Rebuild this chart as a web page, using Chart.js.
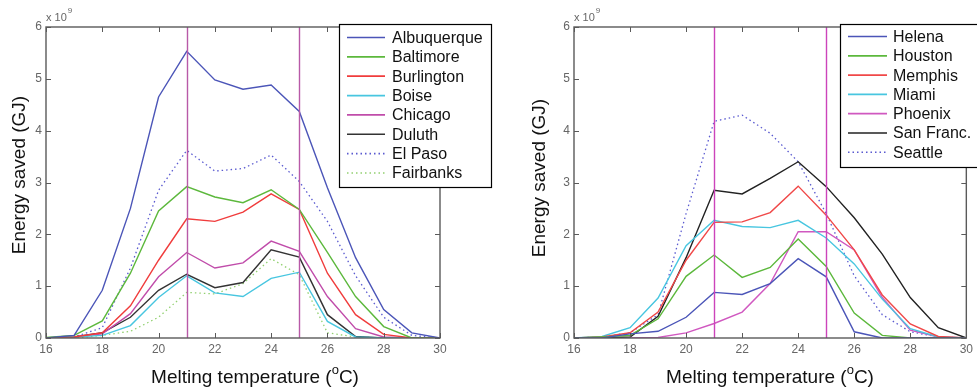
<!DOCTYPE html>
<html>
<head>
<meta charset="utf-8">
<script src="https://cdn.jsdelivr.net/npm/chart.js@4/dist/chart.umd.min.js"></script>
<style>
    html, body { margin: 0; padding: 0; background: #fff; }
    #wrap { position: relative; width: 977px; height: 389px; overflow: hidden; }
    #leftChart { position: absolute; left: 0; top: 0; }
    #rightChart { position: absolute; left: 490px; top: 0; }
</style>
</head>
<body>
<div id="wrap">
    <canvas id="leftChart" width="495" height="389"></canvas>
    <canvas id="rightChart" width="487" height="389"></canvas>
</div>
<script>
// melting temperatures (°C) and axis ticks
const temps = [16, 17, 18, 19, 20, 21, 22, 23, 24, 25, 26, 27, 28, 29, 30];
const xTicks = [16, 18, 20, 22, 24, 26, 28, 30];
const yTicks = [0, 1, 2, 3, 4, 5, 6];
const markerTemps = [21, 25];

// energy saved, x 10^9 GJ - left panel
const albuquerque = [0, 0.05, 0.92, 2.5, 4.65, 5.53, 4.98, 4.8, 4.88, 4.37, 2.9, 1.55, 0.55, 0.1, 0];
const baltimore = [0.01, 0.05, 0.33, 1.25, 2.45, 2.92, 2.72, 2.61, 2.86, 2.48, 1.65, 0.8, 0.22, 0, 0];
const burlington = [0, 0.02, 0.1, 0.62, 1.5, 2.3, 2.25, 2.43, 2.78, 2.48, 1.25, 0.45, 0.07, 0, 0];
const boise = [0, 0.02, 0.05, 0.24, 0.78, 1.2, 0.87, 0.8, 1.15, 1.27, 0.32, 0.02, 0, 0, 0];
const chicago = [0, 0.02, 0.08, 0.47, 1.18, 1.65, 1.35, 1.45, 1.87, 1.67, 0.8, 0.18, 0.02, 0, 0];
const duluth = [0, 0.02, 0.1, 0.4, 0.92, 1.23, 0.97, 1.07, 1.7, 1.56, 0.45, 0.03, 0, 0, 0];
const elPaso = [0, 0.02, 0.2, 1.35, 2.85, 3.62, 3.22, 3.27, 3.53, 3.02, 2.25, 1.2, 0.4, 0.05, 0];
const fairbanks = [0, 0, 0.05, 0.13, 0.4, 0.88, 0.85, 1.05, 1.53, 1.22, 0.1, 0.02, 0, 0, 0];

// right panel
const helena = [0, 0, 0.08, 0.13, 0.4, 0.88, 0.84, 1.05, 1.53, 1.18, 0.12, 0, 0, 0, 0];
const houston = [0, 0.02, 0.05, 0.37, 1.19, 1.6, 1.17, 1.36, 1.91, 1.38, 0.48, 0.05, 0, 0, 0];
const memphis = [0, 0.02, 0.1, 0.5, 1.5, 2.23, 2.24, 2.42, 2.93, 2.37, 1.7, 0.83, 0.27, 0.03, 0];
const miami = [0, 0.03, 0.2, 0.77, 1.78, 2.27, 2.15, 2.13, 2.27, 1.93, 1.43, 0.75, 0.18, 0.02, 0];
const phoenix = [null, null, 0, 0.01, 0.1, 0.28, 0.5, 1.05, 2.05, 2.05, 1.7, 0.78, 0.15, 0.02, 0];
const sanFranc = [0, 0, 0.02, 0.42, 1.55, 2.85, 2.78, 3.08, 3.4, 2.92, 2.32, 1.62, 0.78, 0.2, 0];
const seattle = [0, 0.02, 0.1, 0.45, 2.4, 4.18, 4.3, 3.95, 3.4, 2.4, 1.2, 0.45, 0.12, 0.02, 0];

const FONT = "'Liberation Sans', Arial, sans-serif";

function series(label, values, color, dotted) {
    return {
        label: label,
        data: values.map((v, i) => ({ x: temps[i], y: v })),
        borderColor: color,
        backgroundColor: color,
        borderWidth: dotted ? 1.3 : 1.4,
        borderDash: dotted ? [1.5, 3] : [],
        pointRadius: 0,
        tension: 0,
        fill: false,
        spanGaps: false
    };
}

// MATLAB-like box, inward ticks, marker lines, titles and legend
const matlabAxes = {
    id: "matlabAxes",
    afterDatasetsDraw(chart, args, opts) {
        const ctx = chart.ctx;
        const area = chart.chartArea;
        const xs = chart.scales.x, ys = chart.scales.y;
        ctx.save();

        // marker lines
        ctx.strokeStyle = opts.markerColor;
        ctx.lineWidth = 1.4;
        markerTemps.forEach(t => {
            const px = Math.round(xs.getPixelForValue(t)) + 0.5;
            ctx.beginPath();
            ctx.moveTo(px, area.top);
            ctx.lineTo(px, area.bottom);
            ctx.stroke();
        });

        // frame
        ctx.strokeStyle = "#5a5a5a";
        ctx.lineWidth = 1.4;
        ctx.strokeRect(area.left, area.top, area.right - area.left, area.bottom - area.top);

        // inward ticks
        ctx.lineWidth = 1;
        ctx.beginPath();
        xTicks.forEach(t => {
            const px = Math.round(xs.getPixelForValue(t)) + 0.5;
            ctx.moveTo(px, area.bottom); ctx.lineTo(px, area.bottom - 5);
            ctx.moveTo(px, area.top); ctx.lineTo(px, area.top + 5);
        });
        yTicks.forEach(t => {
            const py = Math.round(ys.getPixelForValue(t)) + 0.5;
            ctx.moveTo(area.left, py); ctx.lineTo(area.left + 5, py);
            ctx.moveTo(area.right, py); ctx.lineTo(area.right - 5, py);
        });
        ctx.stroke();

        // exponent label
        ctx.fillStyle = "#666";
        ctx.textBaseline = "alphabetic";
        ctx.textAlign = "left";
        ctx.font = "11px " + FONT;
        ctx.fillText("x 10", area.left, 21);
        const w = ctx.measureText("x 10").width;
        ctx.font = "8px " + FONT;
        ctx.fillText("9", area.left + w + 1, 13);

        // axis titles
        ctx.fillStyle = "#111";
        ctx.font = "19px " + FONT;
        ctx.textAlign = "left";
        const a = "Melting temperature (", b = "C)";
        const wa = ctx.measureText(a).width, wb = ctx.measureText(b).width;
        ctx.font = "13px " + FONT;
        const wo = ctx.measureText("o").width;
        const total = wa + wo + wb;
        let x0 = opts.xTitleCenter - total / 2;
        const yb = 383;
        ctx.font = "19px " + FONT;
        ctx.fillText(a, x0, yb);
        ctx.font = "13px " + FONT;
        ctx.fillText("o", x0 + wa, yb - 9);
        ctx.font = "19px " + FONT;
        ctx.fillText(b, x0 + wa + wo, yb);

        ctx.save();
        ctx.translate(opts.yTitleX, opts.yTitleY);
        ctx.rotate(-Math.PI / 2);
        ctx.textAlign = "center";
        ctx.textBaseline = "middle";
        ctx.fillText("Energy saved (GJ)", 0, 0);
        ctx.restore();

        // legend
        const lg = opts.legend;
        const sets = chart.data.datasets;
        ctx.fillStyle = "#fff";
        ctx.fillRect(lg.x, lg.y, lg.w, lg.h);
        ctx.strokeStyle = "#000";
        ctx.lineWidth = 1.2;
        ctx.strokeRect(lg.x + 0.5, lg.y + 0.5, lg.w, lg.h);
        ctx.font = "16px " + FONT;
        ctx.textBaseline = "middle";
        ctx.textAlign = "left";
        sets.forEach((ds, i) => {
            const cy = lg.firstRow + i * lg.rowGap;
            ctx.strokeStyle = ds.borderColor;
            ctx.lineWidth = ds.borderWidth + 0.3;
            ctx.setLineDash(ds.borderDash);
            ctx.beginPath();
            ctx.moveTo(lg.x + lg.lineStart, cy);
            ctx.lineTo(lg.x + lg.lineEnd, cy);
            ctx.stroke();
            ctx.setLineDash([]);
            ctx.fillStyle = "#111";
            ctx.fillText(ds.label, lg.x + lg.textStart, cy + 1);
        });
        ctx.restore();
    }
};

function makeChart(canvasId, datasets, yWidth, padRight, extra) {
    const el = document.getElementById(canvasId);
    return new Chart(el.getContext("2d"), {
        type: "line",
        data: { datasets: datasets },
        options: {
            responsive: false,
            animation: false,
            layout: { padding: { left: 0, right: padRight, top: 27, bottom: 0 } },
            plugins: {
                legend: { display: false },
                tooltip: { enabled: false },
                matlabAxes: extra
            },
            scales: {
                x: {
                    type: "linear",
                    min: 16,
                    max: 30,
                    afterBuildTicks: s => { s.ticks = xTicks.map(v => ({ value: v })); },
                    grid: { display: false, drawTicks: false },
                    border: { display: false },
                    ticks: { color: "#666", font: { size: 12, family: FONT }, padding: 4, maxRotation: 0 },
                    afterFit: s => { s.height = 51; }
                },
                y: {
                    min: 0,
                    max: 6,
                    afterBuildTicks: s => { s.ticks = yTicks.map(v => ({ value: v })); },
                    grid: { display: false, drawTicks: false },
                    border: { display: false },
                    ticks: { color: "#666", font: { size: 12, family: FONT }, padding: 4 },
                    afterFit: s => { s.width = yWidth; }
                }
            }
        },
        plugins: [matlabAxes]
    });
}

makeChart("leftChart", [
    series("Albuquerque", albuquerque, "#4b55b8", false),
    series("Baltimore", baltimore, "#5cb83c", false),
    series("Burlington", burlington, "#f03c3c", false),
    series("Boise", boise, "#48c6e0", false),
    series("Chicago", chicago, "#c04caa", false),
    series("Duluth", duluth, "#333333", false),
    series("El Paso", elPaso, "#5a5ad0", true),
    series("Fairbanks", fairbanks, "#92d070", true)
], 46, 55, {
    markerColor: "#b85aa8",
    xTitleCenter: 255,
    yTitleX: 20,
    yTitleY: 175,
    legend: { x: 339, y: 24, w: 152, h: 163, lineStart: 8, lineEnd: 46, textStart: 53, firstRow: 37.5, rowGap: 19.35 }
});

makeChart("rightChart", [
    series("Helena", helena, "#4b55b8", false),
    series("Houston", houston, "#5cb83c", false),
    series("Memphis", memphis, "#f04848", false),
    series("Miami", miami, "#48c6e0", false),
    series("Phoenix", phoenix, "#d058c0", false),
    series("San Franc.", sanFranc, "#222222", false),
    series("Seattle", seattle, "#5a5ad0", true)
], 84, 9, {
    markerColor: "#cc44bb",
    xTitleCenter: 280,
    yTitleX: 50,
    yTitleY: 178,
    legend: { x: 350, y: 24, w: 140, h: 143, lineStart: 8, lineEnd: 47, textStart: 53, firstRow: 36.5, rowGap: 19.3 }
});
</script>
</body>
</html>
